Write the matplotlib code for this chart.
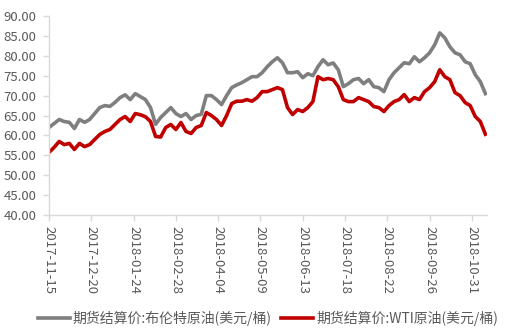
import matplotlib
matplotlib.use("Agg")
import matplotlib.pyplot as plt
import pandas as pd
import numpy as np

plt.rcParams['font.family'] = ['Noto Sans CJK SC', 'DejaVu Sans']

start_date = "2017-11-15"
step_days = 3  # one reading every 3 trading days

brent = [62, 63, 64, 63.5, 63.3, 61.75, 64, 63.3, 64, 65.5,
         67, 67.5, 67.3, 68.3, 69.5, 70.2, 69, 70.5, 69.75, 69,
         67, 62.8, 64.5, 65.75, 67, 65.5, 64.75, 65.5, 64, 65,
         65.3, 70, 70, 69, 67.75, 70, 72, 72.7, 73.25, 74,
         74.75, 74.75, 75.75, 77.25, 78.5, 79.5, 78.25, 75.75, 75.75,
         76, 74.5, 75.5, 75, 77.25, 79, 77.75, 78.2, 76.5, 72.25,
         73, 74, 74.3, 73, 74, 72.25, 72, 71, 74, 75.75,
         77, 78.25, 78, 79.75, 78.5, 79.5, 80.75, 82.75, 85.75, 84.5,
         82.25, 80.75, 80.25, 78.5, 78, 75.25, 73.5, 70.5]

wti = [55.75, 57, 58.5, 57.7, 58, 56.5, 58, 57.2, 57.7, 59,
       60.25, 61, 61.5, 62.75, 64, 64.75, 63.5, 65.5, 65.2, 64.7,
       63.5, 59.75, 59.6, 62, 62.75, 61.5, 63.25, 61, 60.5, 62,
       62.5, 65.75, 65, 64, 62.5, 65, 68, 68.6, 68.6, 69,
       68.6, 69.5, 71, 71, 71.5, 72, 71.5, 67, 65.25,
       66.5, 66, 67, 68.5, 74.75, 74, 74.3, 74, 72.25, 69,
       68.5, 68.5, 69.5, 69, 68.5, 67.25, 67, 66, 67.5, 68.5,
       69, 70.25, 68.5, 69.5, 69, 71, 72, 73.5, 76.5, 74.75,
       74, 70.75, 70, 68.25, 67.5, 64.75, 63.5, 60.3]

tick_labels = ["2017-11-15", "2017-12-20", "2018-01-24", "2018-02-28",
               "2018-04-04", "2018-05-09", "2018-06-13", "2018-07-18",
               "2018-08-22", "2018-09-26", "2018-10-31"]

series_names = ["期货结算价:布伦特原油(美元/桶)", "期货结算价:WTI原油(美元/桶)"]

n = len(brent)
bdays = pd.bdate_range(start=start_date, periods=(n - 1) * step_days + 1)
pos = {d.strftime("%Y-%m-%d"): i for i, d in enumerate(bdays)}
x = np.arange(n) * step_days

fig = plt.figure(figsize=(5.16, 3.32), dpi=100)
ax = fig.add_axes([0.095, 0.352, 0.849, 0.600])

ax.plot(x, brent, color="#7F7F7F", lw=2.6, label=series_names[0], solid_joinstyle="round")
ax.plot(x, wti, color="#C00000", lw=2.6, label=series_names[1], solid_joinstyle="round")

ax.set_ylim(40, 90)
ax.set_yticks(np.arange(40, 90.1, 5))
ax.set_yticklabels([f"{v:.2f}" for v in np.arange(40, 90.1, 5)])
ax.set_xlim(0, x[-1] + 1)
ax.set_xticks([pos[t] for t in tick_labels])
ax.set_xticklabels(tick_labels, rotation=-90)

for s in ["top", "right"]:
    ax.spines[s].set_visible(False)
for s in ["left", "bottom"]:
    ax.spines[s].set_color("#D9D9D9")
    ax.spines[s].set_linewidth(1.0)
ax.tick_params(axis="both", colors="#D9D9D9", labelcolor="#595959", labelsize=9.5, length=4, width=1)
ax.tick_params(axis="x", pad=4)
ax.tick_params(axis="y", pad=5)

ax.legend(loc="center", bbox_to_anchor=(0.5, -0.52), ncol=2, frameon=False,
          fontsize=10, handlelength=2.3, handletextpad=0.2, columnspacing=0.7,
          labelcolor="#595959")

fig.savefig("out.png", dpi=100)
